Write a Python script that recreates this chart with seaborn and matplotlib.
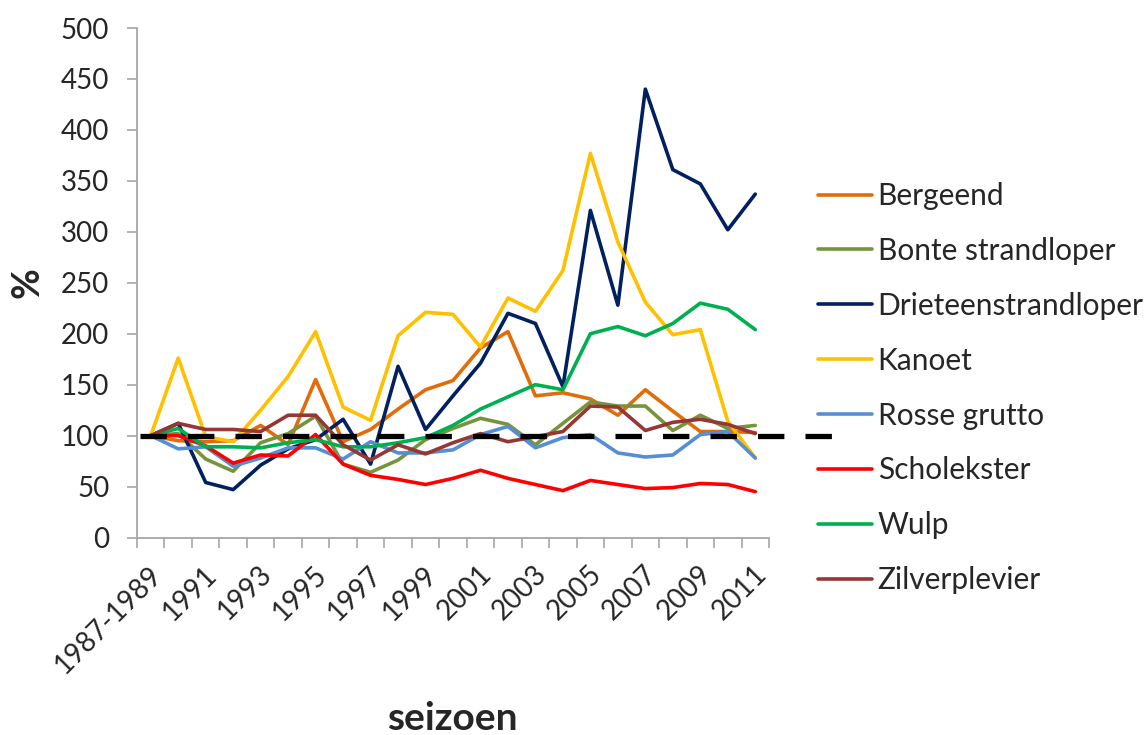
import numpy as np
import pandas as pd
import matplotlib
matplotlib.use("Agg")
import matplotlib.pyplot as plt
import matplotlib.transforms as mtransforms
from matplotlib.ticker import FixedLocator
import seaborn as sns

# ---------------- data ----------------
seasons = ["1987-1989"] + [str(y) for y in range(1990, 2012)]

bergeend = [100, 95, 94, 95, 110, 91, 155, 94, 106, 126, 145, 154, 186, 202, 139, 142, 136, 120, 145, 124, 104, 104, 103]
bonte_strandloper = [100, 102, 77, 65, 93, 102, 119, 72, 64, 76, 96, 107, 117, 111, 91, 112, 133, 129, 129, 105, 120, 107, 110]
drieteenstrandloper = [100, 112, 54, 47, 71, 87, 96, 116, 72, 168, 106, 139, 171, 220, 210, 148, 321, 228, 440, 361, 347, 302, 337]
kanoet = [100, 176, 99, 94, 125, 158, 202, 128, 115, 198, 221, 219, 187, 235, 222, 262, 377, 290, 231, 199, 204, 114, 78]
rosse_grutto = [100, 87, 89, 70, 78, 88, 88, 77, 94, 83, 83, 86, 101, 109, 88, 98, 101, 83, 79, 81, 101, 104, 78]
scholekster = [100, 100, 90, 73, 81, 80, 101, 72, 61, 57, 52, 58, 66, 58, 52, 46, 56, 52, 48, 49, 53, 52, 45]
wulp = [100, 107, 89, 89, 88, 93, 96, 89, 89, 93, 98, 110, 126, 138, 150, 145, 200, 207, 198, 210, 230, 224, 204]
zilverplevier = [100, 112, 106, 106, 104, 120, 120, 91, 76, 91, 82, 93, 102, 94, 99, 104, 129, 128, 105, 113, 116, 111, 102]

species = ["Bergeend", "Bonte strandloper", "Drieteenstrandloper", "Kanoet",
           "Rosse grutto", "Scholekster", "Wulp", "Zilverplevier"]
series = [bergeend, bonte_strandloper, drieteenstrandloper, kanoet,
          rosse_grutto, scholekster, wulp, zilverplevier]
colors = ["#E36C0A", "#77933C", "#002060", "#FFC000",
          "#558ED5", "#FF0000", "#00B050", "#953735"]

reference_level = 100
reference_span = (-0.39, 25.0)   # dashed reference line extends into legend area

y_ticks = list(range(0, 501, 50))

# ---------------- build long table ----------------
pos = np.arange(len(seasons))
rows = []
for name, vals in zip(species, series):
    for p, s, v in zip(pos, seasons, vals):
        rows.append({"pos": p, "seizoen": s, "soort": name, "pct": v})
df = pd.DataFrame(rows)

# ---------------- style ----------------
sns.set_theme(style="white")
plt.rcParams["font.family"] = ["Lato", "DejaVu Sans"]

fig = plt.figure(figsize=(11.46, 7.35), dpi=100)
ax = fig.add_axes([137 / 1146, 1 - 537.5 / 735, (769 - 137) / 1146, (537.5 - 28) / 735])

palette = dict(zip(species, colors))
sns.lineplot(data=df, x="pos", y="pct", hue="soort", hue_order=species,
             palette=palette, linewidth=2.6, ax=ax, legend=False,
             estimator=None, sort=False)

# dashed reference line
ax.plot(reference_span, [reference_level, reference_level], color="black",
        linewidth=3.8, dashes=(5, 4), clip_on=False, zorder=5,
        solid_capstyle="butt", dash_capstyle="butt")

# axes limits & ticks
ax.set_xlim(-0.5, len(seasons) - 0.5)
ax.set_ylim(0, 500)
ax.set_yticks(y_ticks)
ax.set_xticks(pos[::2])
ax.set_xticklabels([seasons[i] for i in pos[::2]], rotation=45, ha="right",
                   va="top", rotation_mode="anchor", fontsize=20)
ax.xaxis.set_minor_locator(FixedLocator(np.arange(-0.5, len(seasons), 1.0)))
ax.tick_params(axis="x", which="major", length=0, pad=17)
ax.tick_params(axis="x", which="minor", length=7, width=1.2, color="#A6A6A6",
               direction="out", bottom=True)
ax.tick_params(axis="y", which="major", length=7, width=1.2, color="#A6A6A6",
               direction="out", left=True, labelsize=20, pad=13)
offset = mtransforms.ScaledTranslation(-2 / 100, 0, fig.dpi_scale_trans)
for lab in ax.get_xticklabels():
    lab.set_transform(lab.get_transform() + offset)

for sp in ["top", "right"]:
    ax.spines[sp].set_visible(False)
for sp in ["left", "bottom"]:
    ax.spines[sp].set_color("#A6A6A6")
    ax.spines[sp].set_linewidth(1.3)

ax.set_xlabel("")
ax.set_ylabel("")
fig.text(27 / 1146, 1 - 283 / 735, "%", rotation=90, fontsize=27,
         fontweight="bold", ha="center", va="center")
fig.text(452 / 1146, 1 - 718 / 735, "seizoen", fontsize=28,
         fontweight="bold", ha="center", va="center")

# legend
handles = [plt.Line2D([0], [0], color=c, linewidth=2.6) for c in colors]
leg = fig.legend(handles, species, loc="upper left",
                 bbox_to_anchor=(818 / 1146, 1 - 182 / 735),
                 frameon=False, fontsize=21.5, handlelength=1.8,
                 handletextpad=0.2, labelspacing=0.9, borderaxespad=0,
                 borderpad=0)

fig.savefig("out.png", dpi=100)
